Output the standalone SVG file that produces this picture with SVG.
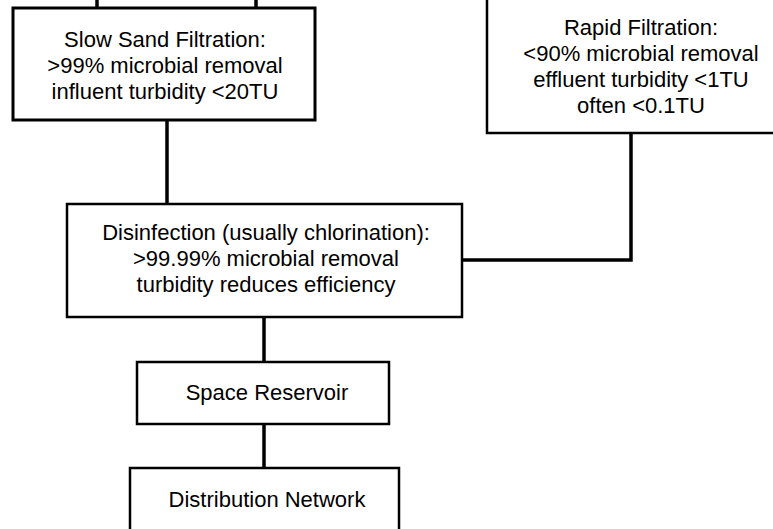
<svg xmlns="http://www.w3.org/2000/svg" width="773" height="529" viewBox="0 0 773 529">
  <style>
    .box { fill: #ffffff; stroke: #000000; stroke-width: 2.5; }
    .thick { stroke-width: 3; }
    .conn { fill: none; stroke: #000000; stroke-width: 3.5; }
    text { font-family: "Liberation Sans", Arial, sans-serif; font-size: 22px; fill: #000000; text-anchor: middle; }
  </style>
  <rect width="773" height="529" fill="#ffffff"/>
  <g id="connectors">
    <line class="conn" x1="97" y1="0" x2="97" y2="8"/>
    <line class="conn" x1="256" y1="0" x2="256" y2="8"/>
    <line class="conn" x1="167" y1="120" x2="167" y2="204"/>
    <polyline class="conn" points="631,133 631,260 462,260"/>
    <line class="conn" x1="264" y1="317" x2="264" y2="362"/>
    <line class="conn" x1="264" y1="424" x2="264" y2="468"/>
  </g>
  <g id="slow-sand">
    <rect class="box thick" x="13" y="8" width="302" height="112"/>
    <text x="165" y="47">Slow Sand Filtration:</text>
    <text x="165" y="73">&gt;99% microbial removal</text>
    <text x="165" y="99">influent turbidity &lt;20TU</text>
  </g>
  <g id="rapid">
    <rect class="box" x="487" y="-10" width="320" height="143"/>
    <text x="641" y="35">Rapid Filtration:</text>
    <text x="641" y="61">&lt;90% microbial removal</text>
    <text x="641" y="87">effluent turbidity &lt;1TU</text>
    <text x="641" y="113">often &lt;0.1TU</text>
  </g>
  <g id="disinfection">
    <rect class="box" x="67" y="204" width="395" height="113"/>
    <text x="266" y="240">Disinfection (usually chlorination):</text>
    <text x="266" y="266">&gt;99.99% microbial removal</text>
    <text x="266" y="292">turbidity reduces efficiency</text>
  </g>
  <g id="reservoir">
    <rect class="box" x="137" y="362" width="252" height="62"/>
    <text x="267" y="400">Space Reservoir</text>
  </g>
  <g id="distribution">
    <rect class="box" x="130" y="468" width="269" height="80"/>
    <text x="267" y="507">Distribution Network</text>
  </g>
</svg>
